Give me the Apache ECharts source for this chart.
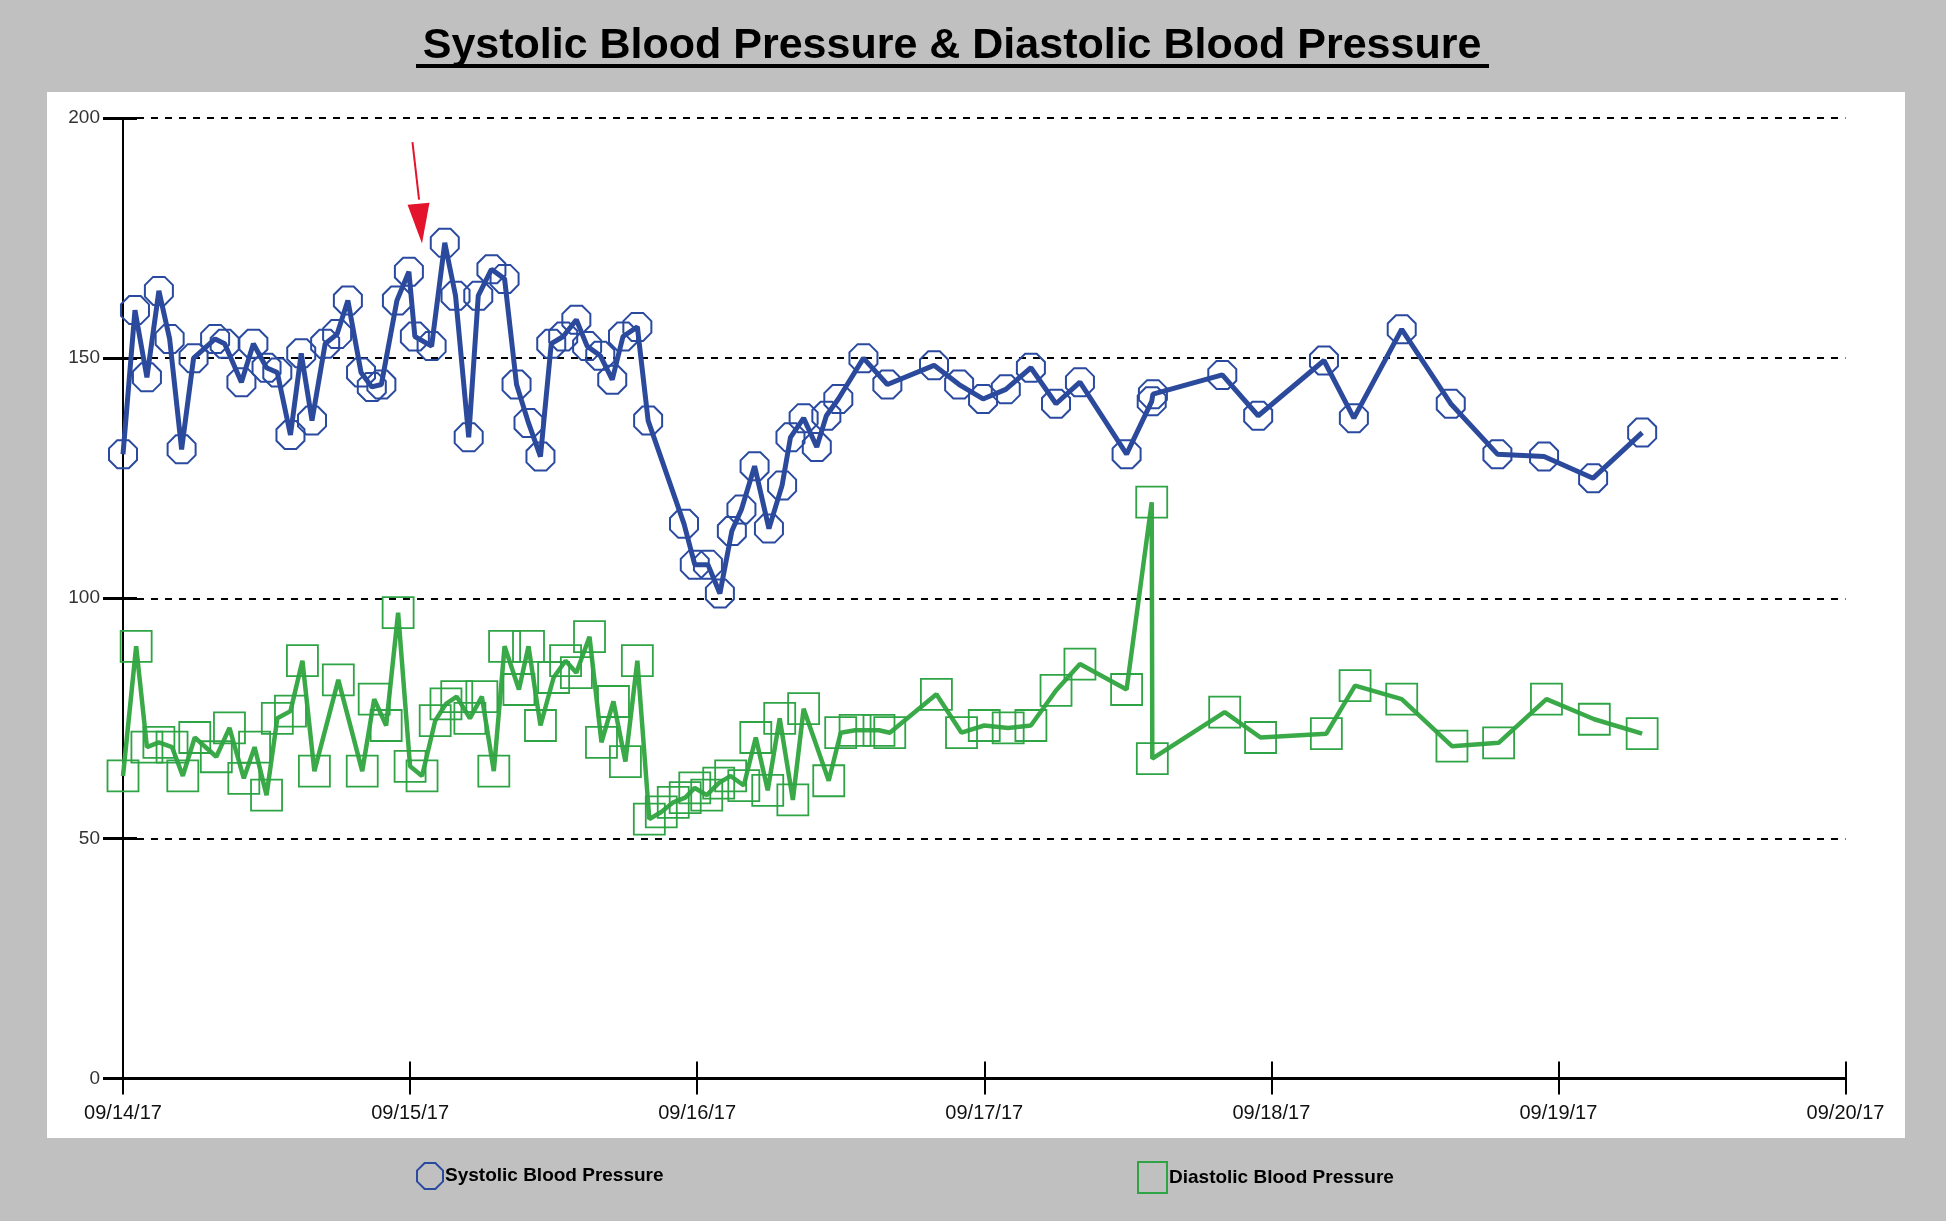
<!DOCTYPE html>
<html>
<head>
<meta charset="utf-8">
<title>Systolic Blood Pressure & Diastolic Blood Pressure</title>
<script src="https://cdn.jsdelivr.net/npm/echarts@6/dist/echarts.min.js"></script>
<style>
  html, body { margin: 0; padding: 0; background: #c0c0c0; }
  #chart { width: 1946px; height: 1221px; }
</style>
</head>
<body>
<div id="chart"></div>
<script>
// ---- Data (hours are counted from 09/14/17 00:00) ----
const dayLabels = ['09/14/17', '09/15/17', '09/16/17', '09/17/17', '09/18/17', '09/19/17', '09/20/17'];
const yTicks = [0, 50, 100, 150, 200];

const sysHours = [0, 1.0, 2.0, 3.0, 3.9, 4.9, 5.9, 7.7, 8.5, 9.9, 10.9, 12.0, 12.9, 14.0, 14.9, 15.8, 16.9, 17.9, 18.8, 19.9,
  20.8, 21.6, 22.9, 23.9, 24.4, 25.8, 26.9, 27.8, 28.9, 29.7, 30.8, 31.9, 32.9, 33.9, 34.9, 35.8, 36.8, 37.9, 38.8, 39.9,
  40.9, 41.8, 43.0, 43.9, 46.9, 47.8, 48.9, 49.9, 50.9, 51.7, 52.8, 54.0, 55.1, 55.8, 56.9, 58.0, 58.8, 59.8, 61.9, 63.9,
  67.8, 69.9, 71.9, 73.8, 75.9, 78.0, 80.0, 83.9, 86.0, 86.1, 91.9, 94.9, 100.4, 102.9, 106.9, 111.0, 114.9, 118.8, 122.9, 127.0];
const sysValues = [130, 160, 146, 164, 154, 131, 150, 154, 153, 145, 153, 148, 147, 134, 151, 137, 153, 155, 162, 147,
  144, 144.5, 162, 168, 154.5, 152.5, 174, 163, 133.5, 163, 168.5, 166.5, 144.5, 136.5, 129.5, 153, 154.5, 158, 152.5, 150.5,
  145.5, 154.5, 156.5, 137, 115.5, 107, 107, 101, 114, 118.5, 127.5, 114.5, 123.5, 133.5, 137.5, 131.5, 138, 141.5, 150, 144.5,
  148.5, 144.5, 141.5, 143.5, 148, 140.5, 145, 130, 141, 142.5, 146.5, 138, 149.5, 137.5, 156, 140.5, 130, 129.5, 125, 134.5];

const diaHours = [0, 1.1, 2.0, 3.0, 4.1, 5.0, 6.0, 7.8, 8.9, 10.1, 11.0, 12.0, 12.9, 14.0, 15.0, 16.0, 18.0, 20.0, 21.0, 22.0,
  23.0, 24.0, 25.0, 26.1, 27.0, 27.9, 29.0, 30.0, 31.0, 31.9, 33.1, 33.9, 34.9, 36.0, 37.0, 37.9, 39.0, 40.0, 41.0, 42.0,
  43.0, 44.0, 45.0, 46.0, 47.0, 47.8, 48.8, 49.8, 50.8, 51.9, 52.9, 53.9, 54.9, 56.0, 56.9, 59.0, 60.0, 61.2, 63.2, 64.1,
  68.0, 70.1, 72.0, 74.0, 75.9, 78.0, 80.0, 83.9, 86.0, 86.05, 92.1, 95.1, 100.6, 103.0, 106.9, 111.1, 115.0, 119.0, 123.0, 127.0];
const diaValues = [63, 90, 69, 70, 69, 63, 71, 67, 73, 62.5, 69, 59, 75, 76.5, 87, 64, 83, 64, 79, 73.5,
  97, 65, 63, 74.5, 78, 79.5, 75, 79.5, 64, 90, 81, 90, 73.5, 83.5, 87, 84.5, 92, 70, 78.5, 66,
  87, 54, 55.5, 57.5, 58.5, 60.5, 59, 61.5, 63, 61, 71, 60, 75, 58, 77, 62, 72, 72.5, 72.5, 72,
  80, 72, 73.5, 73, 73.5, 80.8, 86.3, 81, 120, 66.6, 76.3, 71, 71.8, 81.8, 79, 69.2, 69.9, 79, 74.8, 71.8];

// annotation arrow (data coordinates: hours, mmHg)
const arrowStart = [24.2, 195];
const arrowShaftEnd = [24.75, 183];
const arrowHead = [24.85, 178];

// ---- Styling ----
const FONT = 'Liberation Sans, Arial, sans-serif';
const BLUE = '#2c4a9c';
const BLUE_MARK = '#2a4aa0';
const GREEN = '#3aa948';
const GREEN_MARK = '#2ea444';
const OCTAGON = 'path://M29.3,0 L70.7,0 L100,29.3 L100,70.7 L70.7,100 L29.3,100 L0,70.7 L0,29.3 Z';
const HEAD = 'path://M0,0 L22,0 L11,40 Z';

const sysData = sysHours.map((h, i) => [h, sysValues[i]]);
const diaData = diaHours.map((h, i) => [h, diaValues[i]]);

const chart = echarts.init(document.getElementById('chart'), null, { renderer: 'canvas' });

const yCommon = { type: 'value', min: 0, max: 200, interval: 50 };
const xCommon = { type: 'value', min: 0, max: 144, interval: 24 };

chart.setOption({
  backgroundColor: '#c0c0c0',
  animation: false,
  graphic: [
    { type: 'rect', z: -10, silent: true, shape: { x: 47, y: 92, width: 1858, height: 1046 }, style: { fill: '#ffffff' } },
    { type: 'text', z: 10, silent: true, x: 952, y: 46,
      style: { text: 'Systolic Blood Pressure & Diastolic Blood Pressure', fill: '#000', font: 'bold 43px ' + FONT,
        textAlign: 'center', textVerticalAlign: 'middle' } },
    { type: 'rect', z: 10, silent: true, shape: { x: 416, y: 64, width: 1073, height: 4 }, style: { fill: '#000' } }
  ],
  legend: [
    { left: 416, top: 1162, padding: 0, itemWidth: 26, itemHeight: 30, selectedMode: false,
      textStyle: { fontSize: 19, fontWeight: 'bold', color: '#000', fontFamily: FONT, padding: [0, 0, 0, -3] },
      data: [{ name: 'Systolic Blood Pressure', icon: OCTAGON,
        itemStyle: { color: 'rgba(0,0,0,0)', borderColor: BLUE_MARK, borderWidth: 2 } }] },
    { left: 1137, top: 1161, padding: 0, itemWidth: 29, itemHeight: 31, selectedMode: false,
      textStyle: { fontSize: 19, fontWeight: 'bold', color: '#000', fontFamily: FONT, padding: [0, 0, 0, -3] },
      data: [{ name: 'Diastolic Blood Pressure', icon: 'rect',
        itemStyle: { color: 'rgba(0,0,0,0)', borderColor: GREEN_MARK, borderWidth: 2 } }] }
  ],
  grid: { left: 123, right: 100.5, top: 118, bottom: 142.5, containLabel: false },
  xAxis: [
    Object.assign({}, xCommon, {
      position: 'bottom',
      axisLine: { show: true, lineStyle: { color: '#000', width: 3 } },
      axisTick: { show: true, inside: false, length: 16, lineStyle: { color: '#000', width: 2 } },
      axisLabel: { margin: 25, fontSize: 20, color: '#111', fontFamily: FONT,
        formatter: v => dayLabels[Math.round(v / 24)] },
      splitLine: { show: false }
    }),
    Object.assign({}, xCommon, {
      position: 'bottom',
      axisLine: { show: false },
      axisTick: { show: true, inside: true, length: 17, lineStyle: { color: '#000', width: 2 } },
      axisLabel: { show: false },
      splitLine: { show: false }
    })
  ],
  yAxis: [
    Object.assign({}, yCommon, {
      position: 'left',
      axisLine: { show: true, lineStyle: { color: '#000', width: 2 } },
      axisTick: { show: true, inside: false, length: 20, lineStyle: { color: '#000', width: 3 } },
      axisLabel: { margin: 23, fontSize: 19, color: '#333', fontFamily: FONT,
        formatter: v => (yTicks.indexOf(v) >= 0 ? String(v) : '') },
      splitLine: { show: true, lineStyle: { color: '#000', width: 2, type: [7, 7] } }
    }),
    Object.assign({}, yCommon, {
      position: 'left',
      axisLine: { show: false },
      axisTick: { show: true, inside: true, length: 14, lineStyle: { color: '#000', width: 3 } },
      axisLabel: { show: false },
      splitLine: { show: false }
    })
  ],
  series: [
    {
      name: 'Systolic Blood Pressure',
      type: 'line',
      xAxisIndex: 0, yAxisIndex: 0,
      data: sysData,
      showAllSymbol: true,
      symbol: OCTAGON,
      symbolSize: 28,
      itemStyle: { color: 'rgba(0,0,0,0)', borderColor: BLUE_MARK, borderWidth: 2 },
      lineStyle: { color: BLUE, width: 5 },
      emphasis: { disabled: true },
      z: 3,
      markLine: {
        silent: true, symbol: ['none', 'none'], animation: false,
        label: { show: false },
        lineStyle: { color: '#e3142b', width: 2, type: 'solid' },
        data: [[{ coord: arrowStart }, { coord: arrowShaftEnd }]]
      },
      markPoint: {
        silent: true, animation: false,
        symbol: HEAD, symbolSize: [22, 40], symbolRotate: 5,
        itemStyle: { color: '#e3142b' },
        label: { show: false },
        data: [{ coord: arrowHead }]
      }
    },
    {
      name: 'Diastolic Blood Pressure',
      type: 'line',
      xAxisIndex: 0, yAxisIndex: 0,
      data: diaData,
      showAllSymbol: true,
      symbol: 'rect',
      symbolSize: 31,
      itemStyle: { color: 'rgba(0,0,0,0)', borderColor: GREEN_MARK, borderWidth: 1.8 },
      lineStyle: { color: GREEN, width: 4.5 },
      emphasis: { disabled: true },
      z: 2
    }
  ]
});
</script>
</body>
</html>
